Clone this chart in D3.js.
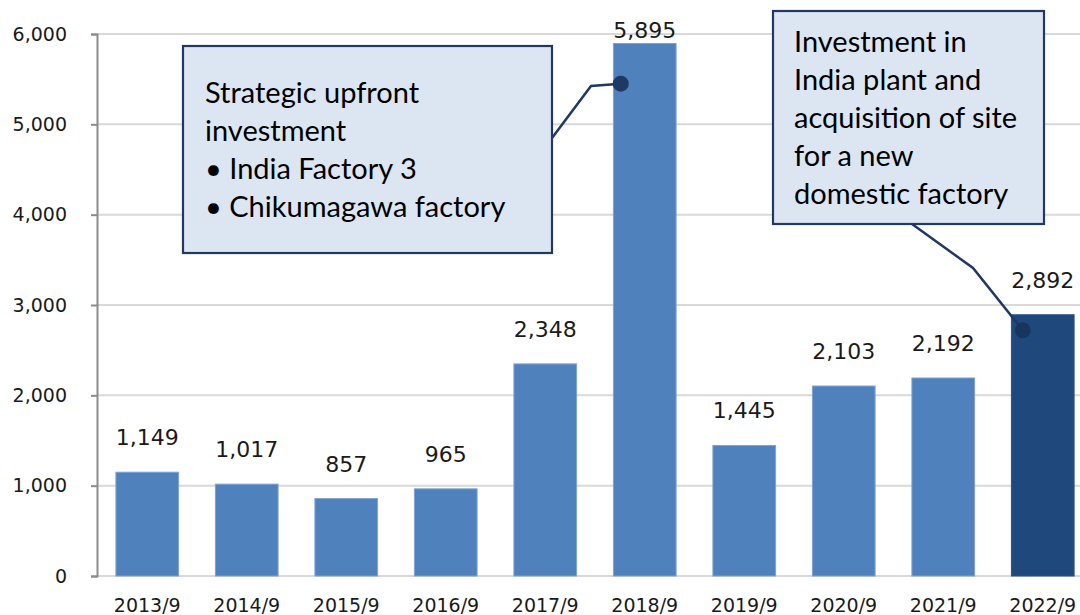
<!DOCTYPE html>
<html>
<head>
<meta charset="utf-8">
<script src="https://cdn.jsdelivr.net/npm/d3@7"></script>
<style>
  body { margin: 0; background: #fff; }
  svg { display: block; }
</style>
</head>
<body>
<script>
// capex by fiscal year (million yen)
var years = ['2013/9', '2014/9', '2015/9', '2016/9', '2017/9', '2018/9', '2019/9', '2020/9', '2021/9', '2022/9'];
var capex = [1149, 1017, 857, 965, 2348, 5895, 1445, 2103, 2192, 2892];
var yTicks = [0, 1000, 2000, 3000, 4000, 5000, 6000];

var note1 = ['Strategic upfront', 'investment', '\u2022 India Factory 3', '\u2022 Chikumagawa factory'];
var note2 = ['Investment in', 'India plant and', 'acquisition of site', 'for a new', 'domestic factory'];

var W = 1080, H = 615;
var svg = d3.select('body').append('svg').attr('width', W).attr('height', H);

var x = d3.scaleBand().domain(years).range([97, 1093]).paddingInner(0.37).paddingOuter(0.19);
var y = d3.scaleLinear().domain([0, 6000]).range([576, 34]);

// gridlines
svg.append('g').selectAll('line').data(yTicks).enter().append('line')
  .attr('x1', 97).attr('x2', W)
  .attr('y1', function(d) { return y(d); }).attr('y2', function(d) { return y(d); })
  .attr('stroke', '#d9d9d9').attr('stroke-width', 2);

// y axis
var yAxis = svg.append('g').attr('transform', 'translate(97,0)')
  .call(d3.axisLeft(y).tickValues(yTicks).tickSize(6).tickPadding(24).tickFormat(d3.format(',')));
yAxis.select('.domain').attr('stroke', '#8c8c8c').attr('stroke-width', 2);
yAxis.selectAll('.tick line').attr('stroke', '#8c8c8c').attr('stroke-width', 2);
yAxis.selectAll('text').attr('font-family', 'DejaVu Sans').attr('font-size', 19).attr('fill', '#1a1a1a');

// bars
svg.append('g').selectAll('rect').data(capex).enter().append('rect')
  .attr('x', function(d, i) { return x(years[i]); })
  .attr('width', x.bandwidth())
  .attr('y', function(d) { return y(d); })
  .attr('height', function(d) { return y(0) - y(d); })
  .attr('fill', function(d, i) { return i == years.length - 1 ? '#1f497d' : '#4f81bd'; })
  .attr('stroke', function(d, i) { return i == years.length - 1 ? '#2a5288' : '#7ea3d2'; })
  .attr('stroke-width', 1);

// value labels
svg.append('g').selectAll('text').data(capex).enter().append('text')
  .attr('x', function(d, i) { return x(years[i]) + x.bandwidth() / 2; })
  .attr('y', function(d) { return Math.max(y(d) - 27, 38); })
  .attr('text-anchor', 'middle')
  .attr('font-family', 'DejaVu Sans').attr('font-size', 22).attr('fill', '#1a1a1a')
  .text(function(d) { return d3.format(',')(d); });

// x labels
svg.append('g').selectAll('text').data(years).enter().append('text')
  .attr('x', function(d) { return x(d) + x.bandwidth() / 2; })
  .attr('y', 612)
  .attr('text-anchor', 'middle')
  .attr('font-family', 'DejaVu Sans').attr('font-size', 19).attr('fill', '#1a1a1a')
  .text(function(d) { return d; });

// callouts
var callouts = [
  {box: [183, 46, 369, 207], textX: 205, firstLine: 103, lines: note1,
   anchor: {cat: '2018/9', value: 5450, dx: -24}, path: [[552, 138], [591, 86]], dot: '#1f3864'},
  {box: [773, 11, 271, 213], textX: 794, firstLine: 52, lines: note2,
   anchor: {cat: '2022/9', value: 2720, dx: -20}, path: [[912, 224], [973, 268]], dot: '#18355e'}
];

callouts.forEach(function(c) {
  var g = svg.append('g');
  var ax = x(c.anchor.cat) + x.bandwidth() / 2 + c.anchor.dx;
  var ay = y(c.anchor.value);
  var pts = c.path.concat([[ax, ay]]);
  g.append('path').attr('d', d3.line()(pts))
    .attr('fill', 'none').attr('stroke', '#1f3864').attr('stroke-width', 2.5);
  g.append('circle').attr('cx', ax).attr('cy', ay).attr('r', 8).attr('fill', c.dot);
  g.append('rect').attr('x', c.box[0]).attr('y', c.box[1])
    .attr('width', c.box[2]).attr('height', c.box[3])
    .attr('fill', '#dce6f2').attr('stroke', '#1f3864').attr('stroke-width', 2.2);
  g.selectAll('text').data(c.lines).enter().append('text')
    .attr('x', c.textX)
    .attr('y', function(d, i) { return c.firstLine + i * 38; })
    .attr('font-family', 'Lato').attr('font-size', 29).attr('fill', '#000')
    .text(function(d) { return d; });
});
</script>
</body>
</html>
